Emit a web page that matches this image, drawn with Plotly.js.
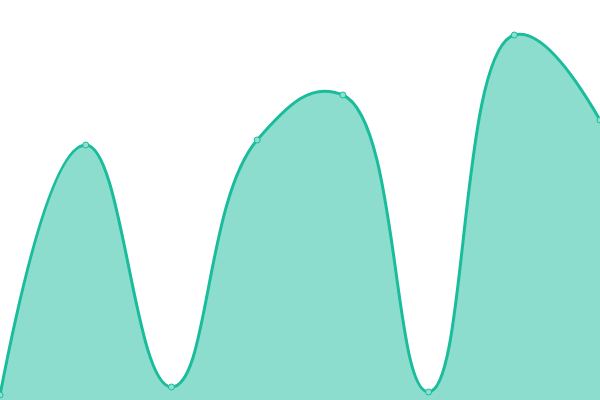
<!DOCTYPE html>
<html><head><meta charset="utf-8">
<script src="https://cdn.plot.ly/plotly-3.0.1.min.js"></script>
<style>html,body{margin:0;padding:0;background:#fff;}#chart{width:600px;height:400px;}</style>
</head><body><div id="chart"></div>
<script>
var xValues = [0, 1, 2, 3, 4, 5, 6, 7];
var yValues = [5, 255, 13, 260, 305, 8, 365, 280];

Plotly.newPlot('chart', [{
  x: xValues, y: yValues, type: 'scatter', mode: 'lines+markers',
  line: {shape: 'spline', smoothing: 1.3, color: '#1abc9c', width: 3},
  marker: {size: 6, color: '#8de0cf', line: {color: '#1abc9c', width: 1}},
  fill: 'tozeroy', fillcolor: 'rgba(26,188,156,0.5)',
  hoverinfo: 'none'
}], {
  width: 600, height: 400,
  margin: {l: 0, r: 0, t: 0, b: 0},
  paper_bgcolor: '#fff', plot_bgcolor: '#fff',
  showlegend: false,
  xaxis: {range: [0, 7], visible: false, fixedrange: true},
  yaxis: {range: [0, 400], visible: false, fixedrange: true}
}, {displayModeBar: false, staticPlot: true});
</script></body></html>
